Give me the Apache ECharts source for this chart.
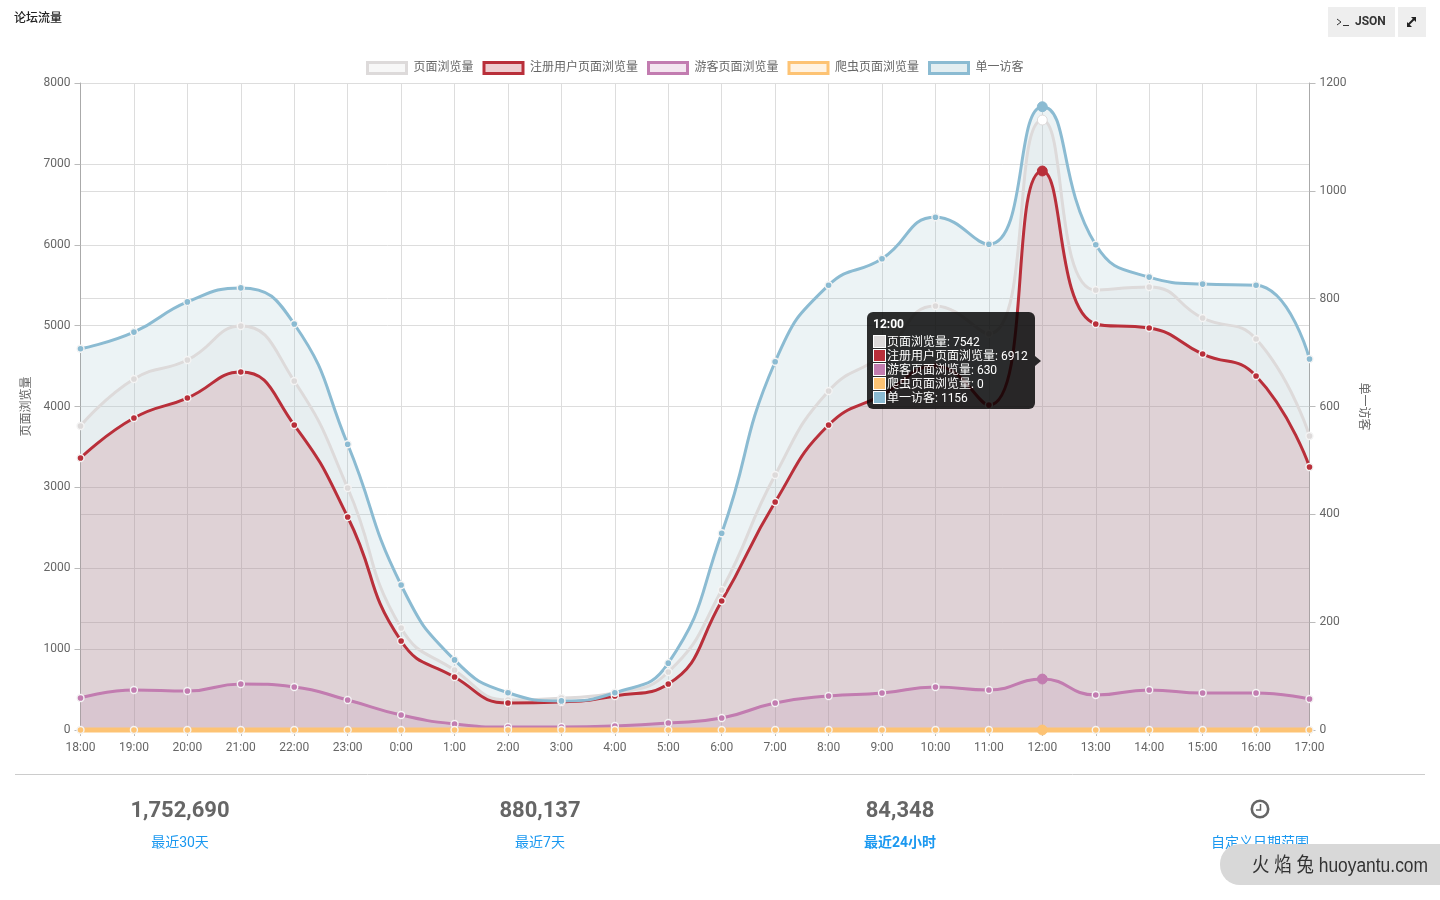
<!DOCTYPE html>
<html><head><meta charset="utf-8">
<style>html,body{margin:0;padding:0;background:#fff}#c{width:1440px;height:900px}</style>
<script src="https://cdn.jsdelivr.net/npm/echarts@6/dist/echarts.min.js"></script>
</head><body><div id="c"></div>
<script>
const hours = ['18:00','19:00','20:00','21:00','22:00','23:00','0:00','1:00','2:00','3:00','4:00','5:00','6:00','7:00','8:00','9:00','10:00','11:00','12:00','13:00','14:00','15:00','16:00','17:00'];
const pageViews = [3759,4340,4575,4995,4315,2992,1261,740,370,395,457,717,1731,3153,4192,4636,5243,4900,7542,5440,5478,5094,4835,3635];
const memberViews = [3363,3858,4105,4426,3771,2634,1100,655,334,346,420,569,1595,2819,3771,4142,4500,4018,6912,5020,4970,4649,4377,3252];
const guestViews = [395,495,482,569,532,371,185,74,37,37,50,87,148,334,420,457,532,495,630,433,495,457,457,383];
const botViews = [0,0,0,0,0,0,0,0,0,0,0,0,0,0,0,0,0,0,0,0,0,0,0,0];
const uniqueVisitors = [707,738,794,820,753,530,269,130,69,54,69,124,365,683,825,874,951,901,1156,900,840,827,825,688];
const seriesNames = ['页面浏览量','注册用户页面浏览量','游客页面浏览量','爬虫页面浏览量','单一访客'];
const seriesColors = ['#dddada','#b92f3a','#c27cb0','#fdc374','#8bbbd2'];
const seriesFills = ['rgba(220,220,220,0.22)','rgba(185,47,58,0.24)','rgba(197,124,176,0.2)','rgba(253,195,116,0.2)','rgba(125,175,190,0.21)'];
const seriesValues = [pageViews,memberViews,guestViews,botViews,uniqueVisitors];
const seriesWidths = [3,3,3,5,3];
const stats = ['1,752,690','880,137','84,348'];
const statLabels = ['最近30天','最近7天','最近24小时','自定义日期范围'];
const hoverIndex = 18;
const FONT = 'Roboto,"Noto Sans CJK SC",sans-serif';

const chart = echarts.init(document.getElementById('c'), null, {renderer:'canvas'});
const series = seriesNames.map((name,i)=>({
  name, type:'line', yAxisIndex: i===4?1:0, smooth:0.5, clip:false, z:3,
  symbol:'circle',
  symbolSize:(v,p)=>p.dataIndex===hoverIndex?9:7,
  data: seriesValues[i].map((v,k)=>k===hoverIndex
    ? {value:v,itemStyle:{color:i===0?'#fff':seriesColors[i],borderColor:seriesColors[i],borderWidth:1}}
    : v),
  lineStyle:{color:seriesColors[i],width:seriesWidths[i]},
  itemStyle:{color:seriesColors[i],borderColor:'#f4f4f4',borderWidth:1.4},
  areaStyle:{color:seriesFills[i]},
  emphasis:{disabled:true}, animation:false
}));
const gridLine = {show:true,lineStyle:{color:'#dddddd',width:1}};
const valueLabel = {color:'#666',fontSize:12,fontFamily:FONT,padding:[5,0,0,0],margin:10,formatter:v=>String(v)};
const axisCommon = {
  axisLine:{show:true,lineStyle:{color:'#aaaaaa'}},
  axisTick:{show:true,length:6,lineStyle:{color:'#bbbbbb'}},
  axisLabel:valueLabel,
  nameTextStyle:{color:'#666',fontSize:12,fontFamily:FONT},
  splitLine:gridLine
};
const footer = [];
stats.forEach((s,i)=>footer.push({type:'text',x:180+360*i,y:811,style:{text:s,fill:'#666',font:'bold 22px '+FONT,align:'center',verticalAlign:'middle'}}));
statLabels.forEach((s,i)=>footer.push({type:'text',x:180+360*i,y:843,style:{text:s,fill:'#1a98f0',font:(i===2?'bold ':'')+'14px '+FONT,align:'center',verticalAlign:'middle'}}));
chart.setOption({
  animation:false,
  title:{text:'论坛流量',left:9,top:8,textStyle:{color:'#222',fontSize:12,fontWeight:500,fontFamily:FONT}},
  legend:{
    top:56,left:361,icon:'rect',itemWidth:39,itemHeight:11,itemGap:9,
    selectedMode:false,
    textStyle:{color:'#666',fontSize:12,fontFamily:FONT,padding:[1,0,0,2]},
    data:seriesNames.map((name,i)=>({name,icon:'rect',itemStyle:{color:seriesFills[i],borderColor:seriesColors[i],borderWidth:3,opacity:1}}))
  },
  grid:{left:80.5,right:130.5,top:83,bottom:170,containLabel:false},
  tooltip:{
    trigger:'axis',alwaysShowContent:true,showDelay:0,transitionDuration:0,
    axisPointer:{type:'none'},
    backgroundColor:'rgba(0,0,0,0.82)',borderWidth:0,padding:[5,6],
    extraCssText:'border-radius:6px;box-shadow:none;width:156px;height:87px;',
    textStyle:{color:'#fff',fontSize:12,fontFamily:FONT},
    position:()=>[867,312],
    formatter:ps=>{
      let h='<div style="font-weight:bold;line-height:14px;margin-bottom:4px;white-space:nowrap;">'+ps[0].axisValue+'</div>';
      ps.forEach(p=>{h+='<div style="line-height:14px;height:14px;white-space:nowrap;"><span style="display:inline-block;width:11px;height:11px;border:1px solid #fff;background:'+seriesColors[p.seriesIndex]+';vertical-align:-2px;margin-right:1px;"></span>'+p.seriesName+': '+(p.value)+'</div>';});
      h+='<div style="position:absolute;right:-6px;top:44px;width:0;height:0;border-top:5px solid transparent;border-bottom:5px solid transparent;border-left:6px solid rgba(0,0,0,0.82);"></div>';
      return h;
    }
  },
  xAxis:Object.assign({},axisCommon,{type:'category',boundaryGap:false,data:hours,axisLabel:{color:'#666',fontSize:12,fontFamily:FONT,interval:0,margin:12},axisTick:{show:true,interval:0,length:6,lineStyle:{color:'#bbbbbb'}},splitLine:{show:true,interval:0,lineStyle:{color:'#dddddd'}}}),
  yAxis:[
    Object.assign({},axisCommon,{type:'value',min:0,max:8000,interval:1000,name:'页面浏览量',nameLocation:'middle',nameGap:47,nameRotate:90}),
    Object.assign({},axisCommon,{type:'value',min:0,max:1200,interval:200,name:'单一访客',nameLocation:'middle',nameGap:47,nameRotate:-90,position:'right'})
  ],
  series,
  graphic:{elements:[
    {type:'line',shape:{x1:15,y1:774.5,x2:1425,y2:774.5},style:{stroke:'#cccccc',lineWidth:1}},
    ...footer,
    {type:'circle',shape:{cx:1260,cy:809,r:8.2},style:{stroke:'#666',lineWidth:2.6,fill:'none'}},
    {type:'polyline',shape:{points:[[1260.5,804],[1260.5,810],[1256,810]]},style:{stroke:'#666',lineWidth:1.5,fill:'none'}},
    {type:'rect',shape:{x:1328,y:7,width:67,height:30},style:{fill:'#eeeeee'}},
    {type:'rect',shape:{x:1398,y:7,width:28,height:30},style:{fill:'#eeeeee'}},
    {type:'polyline',shape:{points:[[1337,19],[1341,22],[1337,25]]},style:{stroke:'#333',lineWidth:1,fill:'none'}},
    {type:'line',shape:{x1:1343,y1:25.5,x2:1349,y2:25.5},style:{stroke:'#333',lineWidth:1}},
    {type:'text',x:1355,y:22,style:{text:'JSON',fill:'#333',font:'bold 12px '+FONT,verticalAlign:'middle'}},
    {type:'line',shape:{x1:1408,y1:25,x2:1415,y2:18},style:{stroke:'#222',lineWidth:2}},
    {type:'polygon',shape:{points:[[1407,22],[1407,27],[1412,27]]},style:{fill:'#222'}},
    {type:'polygon',shape:{points:[[1411,17],[1416,17],[1416,22]]},style:{fill:'#222'}},
    {type:'rect',z:50,shape:{x:1220,y:844,width:240,height:41,r:[20,0,0,20]},style:{fill:'#d8d8d8'}},
    {type:'text',z:51,x:1252,y:866,scaleX:0.87,style:{text:'火 焰 兔 huoyantu.com',fill:'#333',font:'20px "Liberation Sans","Noto Sans CJK SC",sans-serif',verticalAlign:'middle'}}
  ]}
});
chart.dispatchAction({type:'showTip',seriesIndex:0,dataIndex:hoverIndex});
</script></body></html>
